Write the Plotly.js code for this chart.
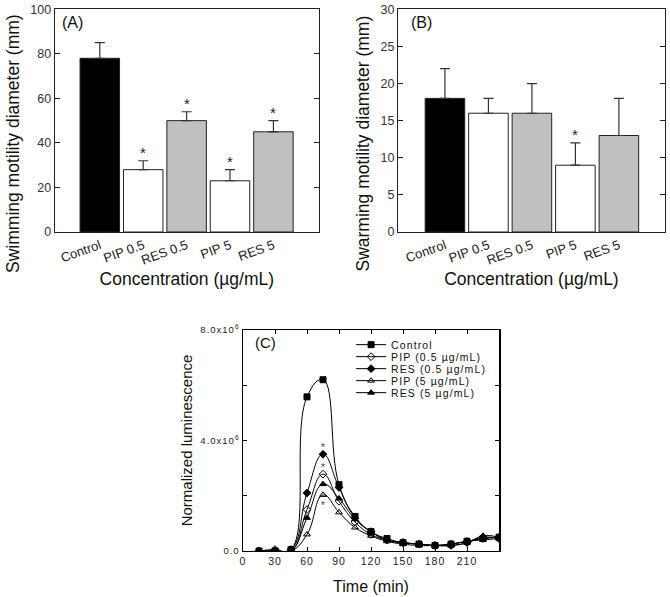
<!DOCTYPE html>
<html>
<head>
<meta charset="utf-8">
<script src="https://cdn.plot.ly/plotly-3.0.1.min.js"></script>
<style>
  html, body { margin: 0; padding: 0; background: #fff; }
  #chart { width: 670px; height: 597px; }
  .legendtext { letter-spacing: 1.1px; }
  .x3tick text, .y3tick text { letter-spacing: 1px; }
</style>
</head>
<body>
<div id="chart"></div>
<script>
// ---------- Data ----------
const categories = ['Control', 'PIP 0.5', 'RES 0.5', 'PIP 5', 'RES 5'];
const barColors = ['#000000', '#ffffff', '#c0c0c0', '#ffffff', '#c0c0c0'];

// (A) swimming motility diameter (mm)
const swimMean = [78, 28, 50, 23, 45];
const swimErr = [7, 4, 4, 5, 5];
const swimSig = [false, true, true, true, true];

// (B) swarming motility diameter (mm)
const swarmMean = [18, 16, 16, 9, 13];
const swarmErr = [4, 2, 4, 3, 5];
const swarmSig = [false, false, false, true, false];

// (C) normalized luminescence vs time
const timeMin = [15, 30, 45, 60, 75, 90, 105, 120, 135, 150, 165, 180, 195, 210, 225, 240];
const lumControl = [0, 0, 0.05e6, 5.58e6, 6.2e6, 2.4e6, 1.25e6, 0.7e6, 0.45e6, 0.3e6, 0.25e6, 0.2e6, 0.25e6, 0.35e6, 0.45e6, 0.5e6];
const lumPip05 = [0, 0.05e6, 0, 1.5e6, 2.78e6, 1.8e6, 1.05e6, 0.6e6, 0.4e6, 0.3e6, 0.25e6, 0.2e6, 0.25e6, 0.35e6, 0.45e6, 0.5e6];
const lumRes05 = [0, 0, 0.05e6, 2.1e6, 3.5e6, 2.3e6, 1.2e6, 0.7e6, 0.4e6, 0.3e6, 0.25e6, 0.2e6, 0.2e6, 0.3e6, 0.5e6, 0.45e6];
const lumPip5 = [0, 0, 0, 0.6e6, 2.03e6, 1.4e6, 0.85e6, 0.55e6, 0.35e6, 0.25e6, 0.2e6, 0.2e6, 0.25e6, 0.35e6, 0.4e6, 0.45e6];
const lumRes5 = [0, 0, 0, 1.2e6, 2.42e6, 1.9e6, 1.15e6, 0.7e6, 0.4e6, 0.3e6, 0.25e6, 0.2e6, 0.2e6, 0.3e6, 0.55e6, 0.5e6];
const seriesNames = ['Control', 'PIP (0.5 µg/mL)', 'RES (0.5 µg/mL)', 'PIP (5 µg/mL)', 'RES (5 µg/mL)'];
const seriesSymbols = ['square', 'diamond-open', 'diamond', 'triangle-up-open', 'triangle-up'];
const lumSeries = [lumControl, lumPip05, lumRes05, lumPip5, lumRes5];
// significance at 75 min: [series index, star above (+1) / below (-1)]
const lumSigTime = 75;
const lumSig = [[2, 1], [1, 1], [3, -1]];

// ---------- Build ----------
const FONT = 'Arial, "Liberation Sans", sans-serif';
const AX = '#222';

function barTrace(vals, errs, xa, ya) {
  return {
    type: 'bar', x: categories, y: vals, xaxis: xa, yaxis: ya,
    width: 0.91,
    marker: { color: barColors, line: { color: '#222', width: 1 } },
    error_y: { type: 'data', symmetric: false, array: errs, arrayminus: errs.map(() => 0),
               color: '#333', thickness: 1.2, width: 5 },
    showlegend: false, hoverinfo: 'skip'
  };
}

const traces = [
  barTrace(swimMean, swimErr, 'x', 'y'),
  barTrace(swarmMean, swarmErr, 'x2', 'y2')
];

lumSeries.forEach((ys, i) => {
  traces.push({
    type: 'scatter', mode: 'lines+markers', x: timeMin, y: ys,
    xaxis: 'x3', yaxis: 'y3', name: seriesNames[i],
    line: { color: '#000', width: 1, shape: 'spline', smoothing: 1.3 },
    marker: { symbol: seriesSymbols[i], size: 6, color: '#000', line: { color: '#000', width: 1 } }
  });
});

const annotations = [];
function starAnn(cat, val, err, xa, ya) {
  annotations.push({ x: cat, y: val + err, xref: xa, yref: ya, text: '*', showarrow: false,
    yanchor: 'bottom', yshift: -2, font: { family: FONT, size: 15, color: '#222' } });
}
categories.forEach((c, i) => {
  if (swimSig[i]) starAnn(c, swimMean[i], swimErr[i], 'x', 'y');
  if (swarmSig[i]) starAnn(c, swarmMean[i], swarmErr[i], 'x2', 'y2');
});
const tIdx = timeMin.indexOf(lumSigTime);
lumSig.forEach(([s, dir]) => {
  annotations.push({ x: lumSigTime, y: lumSeries[s][tIdx], xref: 'x3', yref: 'y3', text: '*',
    showarrow: false, yanchor: 'middle', yshift: dir > 0 ? 7 : -11,
    font: { family: FONT, size: 10, color: '#444' } });
});
// panel labels
annotations.push({ xref: 'x domain', yref: 'y domain', x: 0.022, y: 0.99, xanchor: 'left', yanchor: 'top',
  text: '(A)', showarrow: false, font: { family: FONT, size: 16, color: '#111' } });
annotations.push({ xref: 'x2 domain', yref: 'y2 domain', x: 0.04, y: 0.99, xanchor: 'left', yanchor: 'top',
  text: '(B)', showarrow: false, font: { family: FONT, size: 16, color: '#111' } });
annotations.push({ xref: 'x3 domain', yref: 'y3 domain', x: 0.04, y: 0.99, xanchor: 'left', yanchor: 'top',
  text: '(C)', showarrow: false, font: { family: FONT, size: 15, color: '#111' } });

function catX(domain, range, title) {
  return {
    domain: domain, range: range, type: 'category', ticks: '', tickangle: -20,
    tickfont: { family: FONT, size: 13, color: '#222' },
    showline: true, linecolor: AX, linewidth: 1, mirror: true, showgrid: false, zeroline: false,
    title: { text: title, font: { family: FONT, size: 17.5, color: '#111' }, standoff: 6 }
  };
}
function valY(domain, range, dtick, title, anchor) {
  return {
    domain: domain, range: range, dtick: dtick, anchor: anchor, ticks: 'inside', ticklen: 5, tickcolor: AX,
    tickfont: { family: FONT, size: 12.5, color: '#333' },
    showline: true, linecolor: AX, linewidth: 1, mirror: 'ticks', showgrid: false, zeroline: false,
    title: { text: title, font: { family: FONT, size: 17.5, color: '#111' }, standoff: 6 }
  };
}

const layout = {
  width: 670, height: 597,
  margin: { l: 0, r: 0, t: 0, b: 0 },
  paper_bgcolor: '#fff', plot_bgcolor: '#fff',
  font: { family: FONT, color: '#222' },
  bargap: 0.09,
  xaxis: Object.assign(catX([0.0816, 0.4761], [-1.04, 5.05], 'Concentration (µg/mL)'), { anchor: 'y' }),
  yaxis: valY([0.6114, 0.9844], [0, 100], 20, 'Swimming motility diameter (mm)', 'x'),
  xaxis2: Object.assign(catX([0.594, 0.9925], [-1.08, 5.06], 'Concentration (µg/mL)'), { anchor: 'y2' }),
  yaxis2: valY([0.6114, 0.9844], [0, 30], 5, 'Swarming motility diameter (mm)', 'x2'),
  xaxis3: {
    domain: [0.3627, 0.7448], anchor: 'y3', range: [0, 240],
    tickmode: 'array', tickvals: [0, 30, 60, 90, 120, 150, 180, 210],
    ticks: 'inside', ticklen: 4, tickcolor: '#000',
    tickfont: { family: FONT, size: 10.5, color: '#222' },
    showline: true, linecolor: '#000', linewidth: 1.5, mirror: 'ticks', showgrid: false, zeroline: false,
    title: { text: 'Time (min)', font: { family: FONT, size: 16, color: '#111' }, standoff: 14 }
  },
  yaxis3: {
    domain: [0.0771, 0.4472], anchor: 'x3', range: [0, 8e6],
    tickmode: 'array', tickvals: [0, 4e6, 8e6], ticktext: ['0.0', '4.0x10<sup>6</sup>', '8.0x10<sup>6</sup>'],
    ticks: 'inside', ticklen: 4, tickcolor: '#000',
    minor: { tickvals: [2e6, 6e6], ticks: 'inside', ticklen: 4, tickcolor: '#000' },
    tickfont: { family: FONT, size: 9.5, color: '#222' },
    showline: true, linecolor: '#000', linewidth: 1.5, mirror: 'ticks', showgrid: false, zeroline: false,
    title: { text: 'Normalized luminescence', font: { family: FONT, size: 15, color: '#111' }, standoff: 4 }
  },
  legend: {
    x: 0.524, y: 0.447, xanchor: 'left', yanchor: 'top',
    bgcolor: 'rgba(0,0,0,0)', borderwidth: 0,
    font: { family: FONT, size: 10.5, color: '#111' },
    itemwidth: 30, tracegroupgap: 0
  },
  annotations: annotations,
  showlegend: true
};

Plotly.newPlot('chart', traces, layout, { displayModeBar: false, staticPlot: true }).then(gd => {
  // compact legend rows (reference uses ~12px row spacing)
  const items = gd.querySelectorAll('.legend .traces');
  if (items.length) {
    const m = /translate\(\s*([-\d.]+)[ ,]+([-\d.]+)\s*\)/.exec(items[0].getAttribute('transform') || '');
    if (m) {
      const x0 = parseFloat(m[1]), y0 = parseFloat(m[2]);
      items.forEach((el, i) => el.setAttribute('transform', `translate(${x0},${y0 + i * 12})`));
    }
  }
  // the reference's long y titles sit lower than the axis centre (they start at the top edge)
  ['ytitle', 'y2title'].forEach(cls => {
    const t = gd.querySelector('text.' + cls);
    if (t) t.setAttribute('transform', 'translate(0,23) ' + (t.getAttribute('transform') || ''));
  });
});
</script>
</body>
</html>
